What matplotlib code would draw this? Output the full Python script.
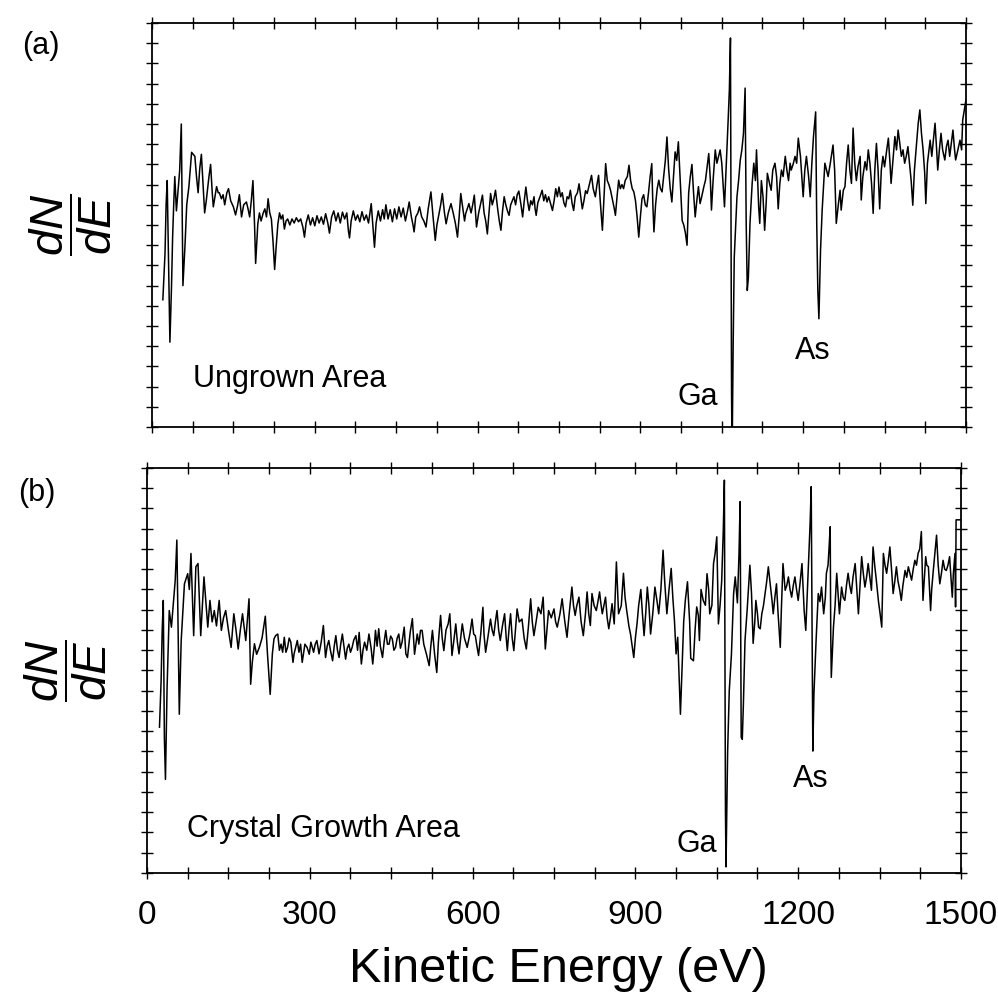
import matplotlib
matplotlib.use("Agg")
import matplotlib.pyplot as plt
from matplotlib.ticker import MultipleLocator

plt.rcParams['font.family'] = ['Liberation Sans', 'DejaVu Sans']
plt.rcParams['mathtext.fontset'] = 'custom'
plt.rcParams['mathtext.it'] = 'Liberation Sans:italic'
plt.rcParams['mathtext.rm'] = 'Liberation Sans'

# (a) Ungrown Area: kinetic energy (eV) and dN/dE (arb. units, 0-100)
energy_a = [
    20, 24, 26, 28, 30, 33, 36, 38, 40, 42,
    45, 48, 51, 54, 57, 61, 64, 68, 73, 76,
    79, 82, 85, 88, 91, 94, 97, 100, 102, 105,
    108, 111, 113, 116, 119, 122, 124, 128, 131, 134,
    138, 141, 145, 150, 154, 158, 161, 165, 169, 174,
    177, 180, 183, 186, 189, 191, 195, 198, 201, 205,
    208, 211, 214, 217, 220, 223, 226, 229, 232, 235,
    238, 241, 244, 247, 250, 254, 258, 262, 266, 270,
    274, 278, 281, 284, 288, 292, 296, 300, 304, 308,
    312, 316, 320, 324, 327, 331, 335, 339, 343, 347,
    351, 355, 359, 362, 364, 367, 371, 375, 379, 383,
    387, 391, 395, 399, 402, 404, 407, 410, 413, 417,
    421, 425, 428, 431, 435, 439, 443, 447, 451, 455,
    459, 463, 467, 471, 474, 478, 481, 483, 486, 490,
    493, 497, 501, 505, 509, 514, 518, 522, 525, 529,
    532, 535, 539, 542, 546, 551, 555, 559, 563, 566,
    569, 573, 576, 578, 581, 584, 588, 591, 594, 598,
    602, 606, 609, 612, 615, 618, 621, 624, 627, 630,
    633, 637, 640, 643, 646, 649, 652, 655, 658, 661,
    664, 667, 670, 673, 676, 680, 683, 686, 689, 692,
    695, 698, 701, 704, 706, 708, 711, 715, 719, 722,
    725, 728, 731, 735, 738, 741, 744, 747, 750, 753,
    756, 759, 762, 765, 768, 771, 774, 777, 780, 784,
    787, 790, 793, 796, 799, 802, 806, 810, 813, 817,
    820, 823, 826, 830, 833, 836, 839, 842, 845, 849,
    852, 854, 857, 860, 863, 866, 869, 872, 876, 879,
    882, 885, 888, 891, 894, 897, 900, 903, 906, 909,
    912, 915, 918, 921, 923, 925, 928, 931, 934, 937,
    940, 943, 946, 949, 952, 955, 958, 961, 964, 967,
    970, 973, 977, 980, 983, 986, 989, 992, 995, 998,
    1001, 1004, 1007, 1010, 1013, 1017, 1020, 1023, 1026, 1029,
    1031, 1034, 1038, 1041, 1044, 1047, 1050, 1053, 1055, 1059,
    1062, 1064, 1066, 1068, 1069, 1071, 1073, 1078, 1081, 1084,
    1087, 1090, 1093, 1095, 1097, 1099, 1102, 1106, 1109, 1112,
    1114, 1118, 1120, 1123, 1126, 1129, 1132, 1134, 1138, 1141,
    1144, 1148, 1151, 1154, 1157, 1160, 1163, 1167, 1170, 1173,
    1176, 1178, 1182, 1185, 1188, 1191, 1195, 1198, 1200, 1203,
    1206, 1210, 1213, 1216, 1219, 1223, 1225, 1227, 1229, 1232,
    1235, 1240, 1243, 1246, 1250, 1255, 1258, 1261, 1265, 1268,
    1270, 1274, 1277, 1280, 1283, 1286, 1289, 1292, 1295, 1298,
    1301, 1305, 1307, 1310, 1314, 1317, 1320, 1323, 1326, 1329,
    1332, 1335, 1338, 1341, 1344, 1347, 1350, 1354, 1357, 1360,
    1362, 1366, 1369, 1372, 1375, 1378, 1381, 1384, 1387, 1390,
    1393, 1396, 1399, 1402, 1405, 1409, 1412, 1415, 1418, 1421,
    1424, 1426, 1429, 1432, 1434, 1437, 1440, 1443, 1446, 1448,
    1451, 1454, 1457, 1461, 1464, 1467, 1470, 1473, 1476, 1479,
    1481, 1485, 1489, 1492, 1494, 1497, 1500,
]
dnde_a = [
    31.5, 43, 55, 61, 45, 21, 35, 47, 55, 62,
    53.5, 58.5, 63.5, 75, 35, 45.5, 55, 59.5, 68, 67.5,
    67, 62, 58, 64, 67.5, 60, 53, 56, 58.5, 62,
    65, 58, 54.5, 57, 59.5, 58, 58, 56.5, 57.5, 55,
    58, 59, 56, 54.5, 52.5, 55, 57.5, 52, 55, 55.7,
    54, 52, 56, 61, 50, 40.5, 50.3, 53, 51, 53,
    54, 52, 56.5, 53, 51.5, 46, 39, 45, 50.3, 53,
    51.5, 52.5, 49, 51, 51.5, 50, 51.5, 50.5, 51.8, 50.8,
    51.5, 49.5, 47, 50.5, 52.5, 50, 51.8, 49.8, 52.3, 50.5,
    52, 50.2, 52.8, 50.5, 48, 52, 53.5, 51, 53, 50.5,
    53.2, 51.5, 53, 48.5, 46.8, 51, 53.5, 51.2, 52.5, 50.8,
    53.3, 51.2, 52.5, 50.5, 53.5, 55.3, 50, 44.5, 50.5, 53.5,
    51, 53.8, 51.5, 55, 51.5, 53.8, 50.8, 54, 51.5, 54.5,
    52, 54.2, 51, 53.5, 55.7, 52, 50, 48.3, 52, 53,
    54.5, 52, 51, 49.5, 54, 58.2, 52, 46.2, 50, 52.8,
    55, 57.8, 53, 50.3, 53, 55.3, 53, 50.5, 47, 52,
    57.8, 54, 51, 52.8, 54, 55.3, 53, 55, 57.4, 49.5,
    53, 55.5, 57.4, 53, 51, 47.8, 53, 57.8, 55, 56.5,
    58.6, 54, 51, 48.7, 53.5, 57, 55, 53.5, 52.4, 55,
    56, 57, 55, 57.5, 58.4, 55, 52, 56, 59.4, 56,
    53.6, 56, 55, 57, 54, 52.4, 55.5, 57, 58.6, 56,
    57.5, 55.7, 57, 55, 53.6, 56, 59, 57, 59.4, 57,
    58, 55.5, 54.5, 57, 56.5, 58.6, 55.5, 53.6, 57, 58,
    60.2, 57, 54, 56, 58.5, 57.8, 60, 62.3, 59, 57,
    60, 62.3, 56, 48.7, 57, 65.2, 61, 60, 58.6, 56,
    54, 52.4, 57, 61.1, 59, 60, 59, 61, 62, 64.8,
    61, 59, 58.2, 56, 52, 47, 52, 56.5, 57.5, 55,
    54.5, 58, 62, 65.2, 55, 48.3, 55, 59, 61.1, 59,
    58.2, 62, 66, 71.8, 64, 59, 55.7, 62, 68.1, 66,
    70.6, 62, 51.1, 50, 48, 45, 58, 62, 65, 58,
    52, 56, 59.5, 55.3, 57, 59.5, 61.1, 64.4, 67.7, 61,
    53.7, 61, 68.6, 65.3, 67, 68.6, 65.3, 58.6, 54.5, 67,
    76.8, 83.5, 96.3, 9, -8, 20.6, 42, 57, 61, 66,
    68.6, 72.7, 83.9, 50.4, 33.8, 37, 50.4, 60.3, 65.3, 61,
    68.6, 54.5, 50.4, 61, 57, 48.7, 56, 62.8, 60.3, 58.6,
    63.6, 65.3, 62, 54, 60.3, 63.6, 62, 67, 63.6, 61,
    65.3, 63.6, 65.3, 67, 65.3, 71.5, 67, 61, 57, 63.6,
    67, 62, 57, 65.3, 71.9, 78, 50.4, 33.8, 26.8, 43.8,
    53.7, 65.3, 63.6, 62, 65.3, 69.8, 63.6, 50.4, 55.3, 58.6,
    53.7, 58.6, 59.5, 65.3, 69.8, 63.6, 60.3, 74, 65.3, 61,
    64.4, 67, 56.2, 62, 65.7, 63.6, 68.6, 65.3, 60.3, 52.9,
    63.6, 70.2, 63.6, 54, 63.6, 67, 64.4, 68.6, 71.5, 65.3,
    60.3, 67, 71.9, 68.6, 73.5, 70.2, 67, 68.6, 65.3, 67,
    69.4, 65.3, 61, 54.9, 63.6, 70.2, 75.2, 78.5, 72.7, 68.6,
    62.8, 55.3, 65.3, 68.6, 71, 67, 71, 75.2, 68.6, 63.6,
    68.6, 72.7, 68.6, 66.1, 69.4, 71, 67, 70.2, 73.5, 68.6,
    66.1, 68.6, 71, 68.6, 76, 78.5, 81,
]

# (b) Crystal Growth Area
energy_b = [
    23, 26, 28, 30, 32, 34, 37, 41, 45, 49,
    52, 55, 59.5, 63, 69, 75, 78, 81, 86, 90,
    94, 99, 105, 112, 116, 120, 124, 128, 133, 137,
    141, 145, 150, 155, 160, 164, 168, 172, 176, 182,
    188, 191, 194, 198, 202, 207, 212, 218, 222, 227,
    231, 234, 237, 241, 244, 247, 250, 253, 256, 259,
    262, 265, 269, 271, 274, 277, 280, 283, 286, 291,
    295, 299, 302, 307, 310, 313, 317, 321, 325, 329,
    332, 335, 338, 342, 345, 348, 351, 354, 357, 360,
    363, 366, 369, 372, 375, 378, 381, 385, 388, 391,
    395, 398, 401, 405, 409, 413, 416, 419, 421, 424,
    427, 430, 434, 437, 440, 443, 446, 449, 452, 455,
    458, 461, 464, 467, 470, 474, 477, 480, 485, 489,
    493, 498, 501, 504, 507, 510, 515, 520, 523, 526,
    530, 534, 537, 541, 544, 547, 551, 555, 558, 562,
    566, 569, 572, 575, 578, 581, 585, 590, 595, 599,
    602, 605, 608, 611, 615, 619, 621, 624, 628, 633,
    636, 639, 642, 645, 648, 651, 655, 659, 662, 664,
    667, 670, 673, 676, 679, 682, 686, 691, 695, 699,
    703, 707, 710, 713, 717, 721, 726, 730, 734, 737,
    740, 745, 750, 753, 756, 761, 765, 770, 774, 778,
    783, 786, 789, 792, 796, 800, 804, 808, 811, 814,
    817, 820, 824, 828, 831, 834, 836, 839, 842, 845,
    848, 851, 854, 857, 861, 865, 869, 874, 878, 881,
    884, 888, 891, 894, 897, 900, 903, 906, 910, 913,
    916, 919, 922, 925, 928, 932, 936, 940, 943, 947,
    951, 954, 958, 962, 966, 969, 972, 975, 978, 981,
    983, 986, 989, 992, 996, 1000, 1002, 1007, 1010, 1013,
    1016, 1018, 1021, 1025, 1029, 1032, 1035, 1037, 1041, 1044,
    1047, 1050, 1053, 1056, 1059, 1062, 1064, 1066, 1067, 1070,
    1073, 1077, 1081, 1084, 1088, 1091, 1093, 1095, 1097, 1099,
    1102, 1106, 1111, 1114, 1117, 1120, 1122, 1125, 1127, 1130,
    1133, 1136, 1139, 1142, 1145, 1149, 1152, 1154, 1157, 1160,
    1163, 1167, 1169, 1172, 1176, 1179, 1182, 1185, 1188, 1191,
    1194, 1197, 1200, 1203, 1207, 1211, 1214, 1217, 1219, 1222,
    1224, 1226, 1227, 1229, 1233, 1237, 1240, 1243, 1247, 1250,
    1252, 1255, 1257, 1259, 1260, 1261, 1265, 1268, 1271, 1273,
    1276, 1280, 1283, 1286, 1289, 1292, 1295, 1298, 1301, 1305,
    1308, 1311, 1314, 1317, 1320, 1323, 1326, 1329, 1332, 1335,
    1338, 1341, 1344, 1348, 1351, 1354, 1357, 1360, 1363, 1366,
    1369, 1372, 1375, 1378, 1381, 1384, 1387, 1390, 1393, 1397,
    1400, 1403, 1406, 1409, 1412, 1415, 1418, 1421, 1424, 1427,
    1430, 1433, 1435, 1437, 1440, 1442, 1444, 1446, 1449, 1452,
    1455, 1458, 1461, 1464, 1467, 1470, 1473, 1476, 1479, 1482,
    1484, 1486, 1489, 1490, 1491, 1500,
]
dnde_b = [
    36, 47.5, 60, 67.3, 33.4, 23.1, 45.8, 64.8, 60.7, 67.3,
    72.3, 82.2, 39.2, 57.4, 71.4, 73.9, 70, 78.9, 58.6, 75.6,
    76.4, 58.6, 73.1, 60.7, 67.3, 62, 64.8, 61, 67.3, 59.9,
    63, 64.8, 60, 55.7, 64, 60, 55.3, 60, 64, 57.4,
    67.7, 46.6, 52, 56.6, 54, 55.7, 58, 63.4, 54.1, 44.1,
    54.1, 57.8, 58.6, 59, 55, 56.5, 54.5, 58.2, 54.5, 55.7,
    58, 57, 52, 54.1, 55.7, 57.4, 54.5, 56.5, 52, 56.5,
    55.7, 54, 57, 54.5, 56.5, 57.4, 54.1, 57, 61.1, 53.2,
    56, 57.4, 55, 52.4, 56, 58.6, 55, 53.2, 56.5, 59,
    56, 52.8, 55.5, 56.5, 54.5, 55.7, 57.5, 58.6, 55, 59.4,
    51.6, 55, 57, 55, 59, 55.5, 51.6, 56, 59.9, 56,
    60.3, 56, 53.2, 57, 59.9, 56.5, 56.5, 58.5, 57.8, 55,
    55.7, 58, 59, 55.5, 57, 60.7, 54.1, 53.2, 59.4, 62.8,
    54, 59, 56.5, 59.9, 59.9, 56.5, 54, 51.2, 56, 59.9,
    54, 49.5, 57, 63.6, 58, 54.9, 60, 61.5, 64, 53.7,
    58, 61.5, 57, 54.1, 58, 61.5, 58, 55.7, 59, 62.7,
    59, 58.6, 56, 53.7, 59, 65.6, 59, 54.5, 58, 62.7,
    60, 58.6, 62, 64.8, 60, 57.4, 61, 64, 58, 54.9,
    60, 64, 58, 54.9, 60, 65.2, 62, 62.7, 58, 55.3,
    61, 67.7, 62, 58.6, 62, 65.6, 64, 68.1, 55.3, 60,
    64.8, 63, 65.2, 62, 60.7, 64, 67.7, 62, 58.2, 64,
    70.6, 66, 63.6, 66, 68.1, 62, 58.6, 64, 69.4, 64,
    61.1, 69, 66, 64.8, 67, 69.4, 67, 64, 66, 68.1,
    63, 60.3, 63, 66.5, 61.5, 76.8, 64, 66, 74, 68,
    64.8, 61, 59, 56, 53.2, 58, 61.5, 66, 70, 64,
    58.6, 64, 70.6, 66, 59, 64, 70.6, 67, 64, 70,
    79.7, 72, 64, 70, 75.2, 68, 62.3, 54.1, 58.2, 46.6,
    39.2, 50.8, 62, 67.3, 71.9, 62, 53, 52.4, 60, 65.7,
    63.6, 57.4, 70, 67.3, 66.1, 73.9, 70, 64, 66.1, 76.4,
    79, 83, 61.5, 66, 72, 84.7, 97, 15, 1.5, 30,
    45, 54, 69, 73.1, 66.7, 79, 91.7, 33.5, 33, 41.5,
    57.4, 65, 76, 69, 56.7, 62, 67.3, 64, 60.7, 60.3,
    64, 66, 69, 72, 75.6, 70.6, 67, 64, 68, 71.4,
    64, 55.7, 65, 76.4, 69.8, 71, 73.1, 70, 68.1, 71,
    73.1, 70, 67.3, 71, 76.4, 64.8, 59.9, 70, 76.4, 86.3,
    95.4, 54.1, 30.1, 44.1, 57.4, 69, 67, 70.6, 64, 68,
    74, 76, 80.5, 85.5, 59, 48.3, 60.7, 66, 74, 70,
    64, 70.6, 68, 67.3, 71, 74, 71, 69, 73, 76.4,
    70, 64, 71, 78.1, 74, 70.6, 73, 76.4, 73, 69.8,
    80.5, 76, 72.3, 67, 64, 60.7, 78.9, 76, 74, 77,
    80.5, 75, 69, 72, 75.6, 72, 70, 67.3, 71, 74.7,
    73, 75.6, 74, 72.3, 75, 77.2, 76, 78.9, 80, 84.3,
    67.3, 74, 78.1, 76, 75.6, 70, 64.8, 70, 74.7, 79,
    83.4, 76, 71.4, 74, 77.2, 75, 74.7, 76, 78.1, 72,
    68.1, 74, 78.9, 65.7, 87.2, 87.2,
]

fig = plt.figure(figsize=(9.98, 9.97), dpi=100)
ax_a = fig.add_axes([0.1523, 0.5717, 0.8156, 0.4052])
ax_b = fig.add_axes([0.1473, 0.1244, 0.8156, 0.4062])

for ax, en, sig in [(ax_a, energy_a, dnde_a), (ax_b, energy_b, dnde_b)]:
    ax.plot(en, sig, color='black', lw=1.1)
    ax.set_xlim(0, 1500)
    ax.set_ylim(0, 100)
    ax.xaxis.set_major_locator(MultipleLocator(300))
    ax.xaxis.set_minor_locator(MultipleLocator(75))
    ax.yaxis.set_major_locator(MultipleLocator(5))
    ax.tick_params(which='both', direction='inout', length=9, width=1.0,
                   top=True, right=True, labelleft=False)
    ax.tick_params(axis='x', labelsize=24, pad=15)
    for sp in ax.spines.values():
        sp.set_linewidth(1.3)
    ax.set_ylabel(r'$\dfrac{dN}{dE}$', fontsize=34, va='center')
    ax.yaxis.set_label_coords(-0.10, 0.5)

ax_a.tick_params(labelbottom=False)

ax_b.set_xlabel('Kinetic Energy (eV)', fontsize=35, va='baseline')
ax_b.xaxis.set_label_coords(0.505, -0.269)

# annotations
ax_a.text(0.050, 0.099, 'Ungrown Area', transform=ax_a.transAxes, fontsize=22)
ax_a.text(0.646, 0.055, 'Ga', transform=ax_a.transAxes, fontsize=22)
ax_a.text(0.790, 0.169, 'As', transform=ax_a.transAxes, fontsize=22)
ax_b.text(0.049, 0.089, 'Crystal Growth Area', transform=ax_b.transAxes, fontsize=22)
ax_b.text(0.650, 0.052, 'Ga', transform=ax_b.transAxes, fontsize=22)
ax_b.text(0.793, 0.213, 'As', transform=ax_b.transAxes, fontsize=22)

fig.text(0.022, 1 - 46 / 997, '(a)', fontsize=22, va='center')
fig.text(0.018, 1 - 493 / 997, '(b)', fontsize=22, va='center')

fig.savefig('out.png', dpi=100)
